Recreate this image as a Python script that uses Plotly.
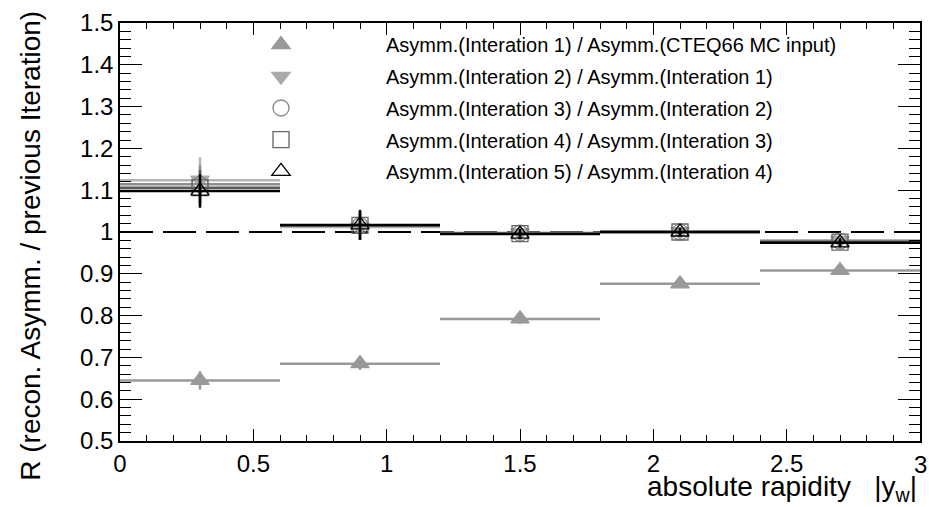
import plotly.graph_objects as go

bin_centers = [0.3, 0.9, 1.5, 2.1, 2.7]
bin_halfwidth = [0.3, 0.3, 0.3, 0.3, 0.3]

x_tickvals = [0, 0.5, 1, 1.5, 2, 2.5, 3]
x_ticktext = ["0", "0.5", "1", "1.5", "2", "2.5", ""]
x_edge_label = "3"

names = [
    "Asymm.(Interation 1) / Asymm.(CTEQ66 MC input)",
    "Asymm.(Interation 2) / Asymm.(Interation 1)",
    "Asymm.(Interation 3) / Asymm.(Interation 2)",
    "Asymm.(Interation 4) / Asymm.(Interation 3)",
    "Asymm.(Interation 5) / Asymm.(Interation 4)",
]
iter1 = [0.645, 0.685, 0.792, 0.876, 0.908]
iter2 = [1.124, 1.012, 0.998, 1.001, 0.980]
iter3 = [1.114, 1.015, 0.997, 1.000, 0.978]
iter4 = [1.106, 1.016, 0.996, 1.000, 0.976]
iter5 = [1.098, 1.017, 0.995, 1.000, 0.974]
err1 = [0.022, 0.015, 0.012, 0.010, 0.010]
err2 = [0.055, 0.030, 0.012, 0.010, 0.010]
err3 = [0.045, 0.033, 0.012, 0.010, 0.010]
err4 = [0.042, 0.035, 0.012, 0.010, 0.010]
err5 = [0.040, 0.036, 0.012, 0.010, 0.010]

series = [iter1, iter2, iter3, iter4, iter5]
errors = [err1, err2, err3, err4, err5]
line_colors = ["#999999", "#b4b4b4", "#8c8c8c", "#5a5a5a", "#000000"]
symbols = ["triangle-up", "triangle-down", "circle-open", "square-open", "triangle-up-open"]
marker_colors = ["#999999", "#aaaaaa", "#888888", "#666666", "#000000"]

FONT = "Liberation Sans, Arial, Helvetica, sans-serif"

fig = go.Figure()

fig.add_shape(type="line", x0=0, x1=3, y0=1, y1=1, xref="x", yref="y",
              line=dict(color="black", width=2.2, dash="33px,10px"), layer="below")

for i in range(5):
    fig.add_trace(go.Scatter(
        x=bin_centers, y=series[i], mode="markers", name=names[i],
        legendgroup="g%d" % i,
        marker=dict(symbol=symbols[i], size=16, color=marker_colors[i],
                    line=dict(color=marker_colors[i], width=1.3)),
        error_x=dict(type="data", array=bin_halfwidth, symmetric=True,
                     color=line_colors[i], thickness=2.5, width=0),
        error_y=dict(type="data", array=errors[i], symmetric=True,
                     color=line_colors[i], thickness=2.5, width=0),
    ))

axis_common = dict(showline=True, linecolor="black", linewidth=1.5, mirror="ticks",
                   ticks="inside", tickcolor="black", tickwidth=1.3,
                   showgrid=False, zeroline=False,
                   tickfont=dict(family=FONT, size=24, color="black"))

fig.update_xaxes(range=[0, 3], tickmode="array", tickvals=x_tickvals, ticktext=x_ticktext,
                 ticklen=12,
                 minor=dict(dtick=0.1, tick0=0, ticklen=6, ticks="inside", tickcolor="black",
                            showgrid=False),
                 **axis_common)
fig.update_yaxes(range=[0.5, 1.5], dtick=0.1, tick0=0.5, ticklen=22,
                 minor=dict(dtick=0.02, ticklen=11, ticks="inside", tickcolor="black", showgrid=False),
                 **axis_common)

# label for the last x tick, which sits at the very edge of the page
fig.add_annotation(text=x_edge_label, xref="x", yref="paper", x=x_tickvals[-1], y=-0.02,
                   xanchor="center", yanchor="top", showarrow=False,
                   font=dict(family=FONT, size=24, color="black"))

fig.add_annotation(text="absolute rapidity   |y<sub>w</sub>|", xref="paper", yref="paper",
                   x=0.999, y=-0.16, xanchor="right", yanchor="bottom", showarrow=False,
                   font=dict(family=FONT, size=28, color="black"))
fig.add_annotation(text="R (recon. Asymm. / previous Iteration)", xref="paper", yref="paper",
                   x=-0.112, y=1.035, xanchor="center", yanchor="top", textangle=-90,
                   showarrow=False, font=dict(family=FONT, size=28, color="black"))

fig.update_layout(
    width=929, height=507,
    margin=dict(l=120, r=7, t=23, b=66),
    paper_bgcolor="white", plot_bgcolor="white",
    showlegend=True,
    legend=dict(x=0.07, y=0.995, xanchor="left", yanchor="top",
                bgcolor="rgba(0,0,0,0)", borderwidth=0,
                font=dict(family=FONT, size=20, color="black"),
                itemwidth=200, traceorder="grouped", tracegroupgap=2.7),
)

fig.write_html("out.html")
